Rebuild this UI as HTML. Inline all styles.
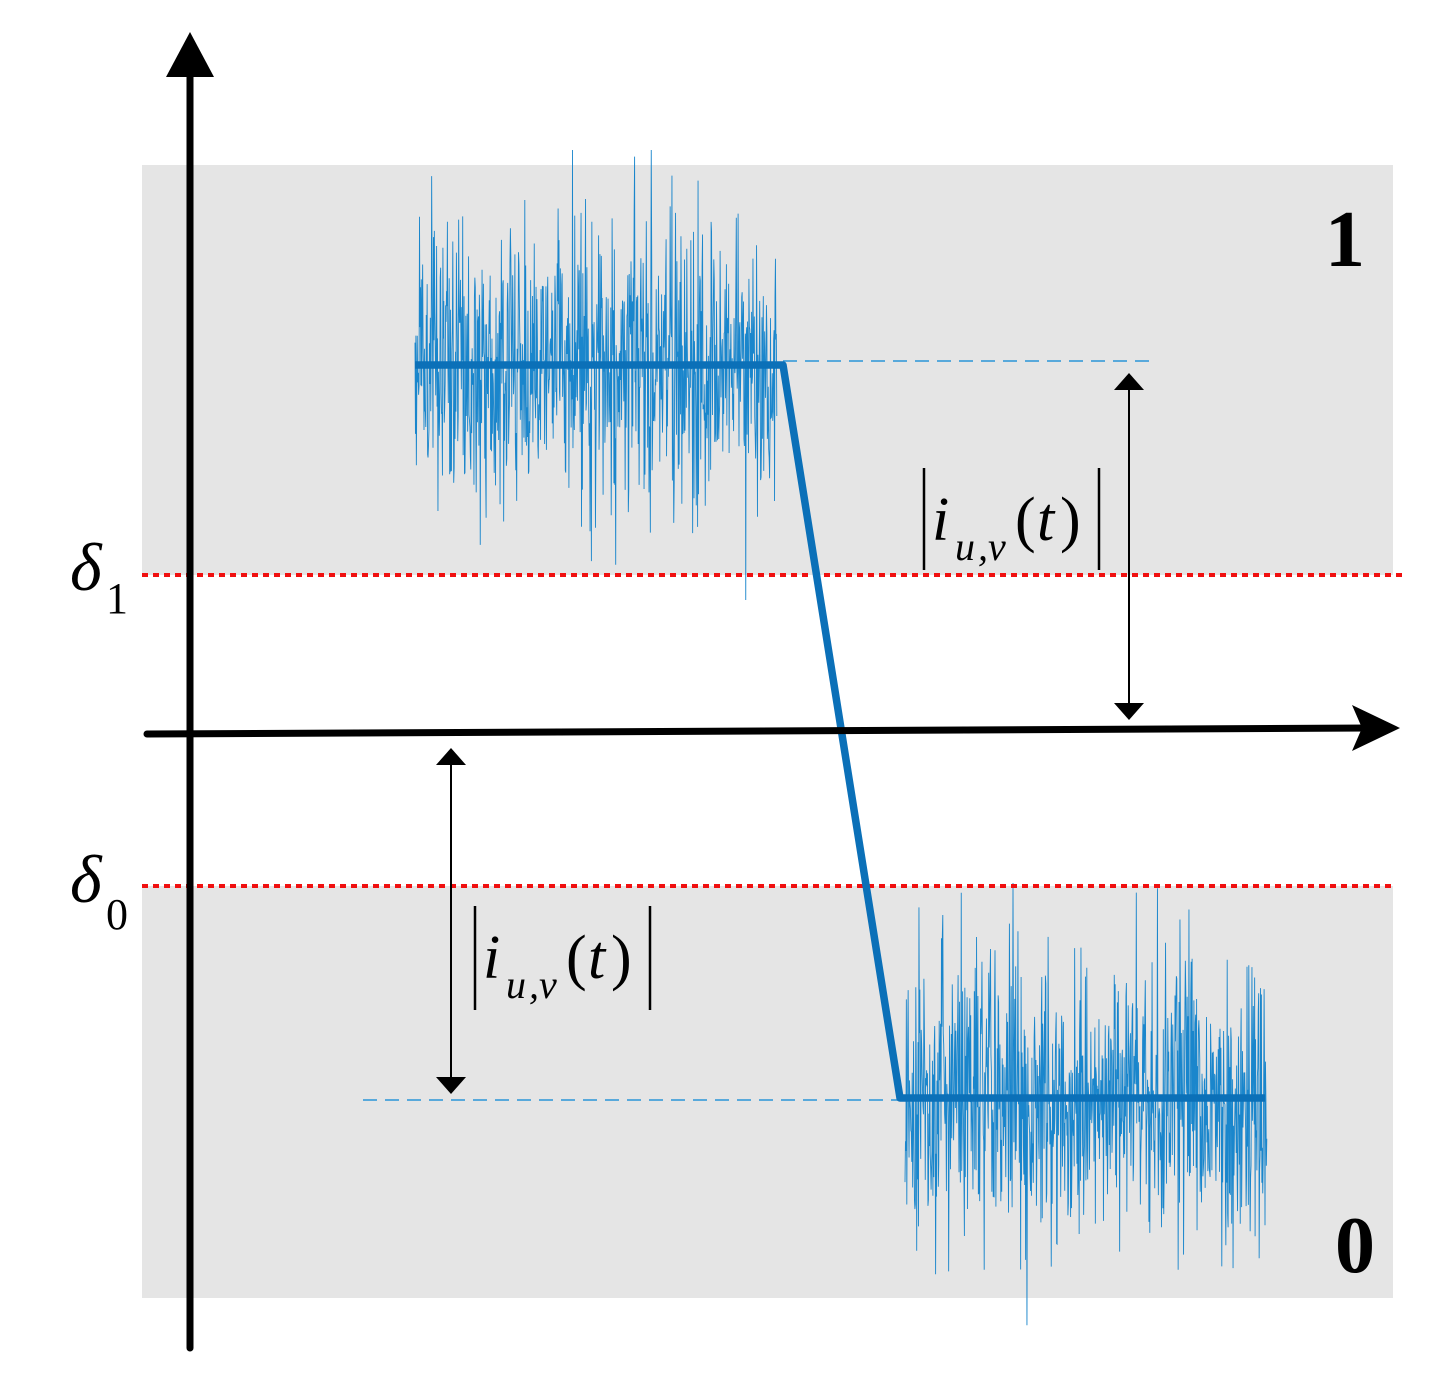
<!DOCTYPE html>
<html><head><meta charset="utf-8"><style>
html,body{margin:0;padding:0;background:#fff;}
svg{display:block;}
</style></head><body>
<svg id="s" width="1431" height="1377" viewBox="0 0 1431 1377" xmlns="http://www.w3.org/2000/svg">
<rect x="142" y="165" width="1251" height="410" fill="#e5e5e5"/>
<rect x="142" y="886" width="1251" height="412" fill="#e5e5e5"/>
<g id="noise"></g>
<line x1="142" y1="575" x2="1403" y2="575" stroke="#f01010" stroke-width="4" stroke-dasharray="6,5"/>
<line x1="142" y1="886" x2="1395" y2="886" stroke="#f01010" stroke-width="4" stroke-dasharray="6,5"/>
<line x1="783" y1="361" x2="1155" y2="361" stroke="#2a95d8" stroke-width="1.5" stroke-dasharray="14,8"/>
<line x1="363" y1="1100" x2="900" y2="1100" stroke="#2a95d8" stroke-width="1.5" stroke-dasharray="14,8"/>
<polyline points="415,365 783,365 900,1098 1265,1098" fill="none" stroke="#0b70b8" stroke-width="7.5" stroke-linejoin="round"/>
<line x1="190" y1="65" x2="190" y2="1348" stroke="#000" stroke-width="7" stroke-linecap="round"/>
<polygon points="190,32 166,77 214,77" fill="#000"/>
<line x1="147" y1="734" x2="1370" y2="728" stroke="#000" stroke-width="7" stroke-linecap="round"/>
<polygon points="1400,728 1352,705 1362,728 1352,751" fill="#000"/>
<line x1="1129" y1="385" x2="1129" y2="708" stroke="#000" stroke-width="2"/>
<polygon points="1129,373 1114,390 1144,390" fill="#000"/>
<polygon points="1129,720 1114,703 1144,703" fill="#000"/>
<line x1="451" y1="760" x2="451" y2="1082" stroke="#000" stroke-width="2"/>
<polygon points="451,748 436,765 466,765" fill="#000"/>
<polygon points="451,1094 436,1077 466,1077" fill="#000"/>
<g font-family="'Liberation Serif',serif" fill="#000">
<line x1="924" y1="468" x2="924" y2="570" stroke="#000" stroke-width="2.5"/>
<line x1="1099" y1="468" x2="1099" y2="570" stroke="#000" stroke-width="2.5"/>
<text x="932" y="540" font-size="62" font-style="italic">i</text>
<text x="955" y="560" font-size="40" font-style="italic">u</text>
<text x="978" y="560" font-size="40" font-style="italic">,v</text>
<text x="1015" y="540" font-size="62">(</text>
<text x="1037" y="540" font-size="62" font-style="italic">t</text>
<text x="1060" y="540" font-size="62">)</text>
<line x1="475" y1="906" x2="475" y2="1010" stroke="#000" stroke-width="2.5"/>
<line x1="650" y1="906" x2="650" y2="1010" stroke="#000" stroke-width="2.5"/>
<text x="483" y="978" font-size="62" font-style="italic">i</text>
<text x="506" y="998" font-size="40" font-style="italic">u</text>
<text x="529" y="998" font-size="40" font-style="italic">,v</text>
<text x="566" y="978" font-size="62">(</text>
<text x="588" y="978" font-size="62" font-style="italic">t</text>
<text x="611" y="978" font-size="62">)</text>
<text x="70" y="590" font-size="68" font-style="italic">δ</text>
<text x="106" y="613" font-size="44">1</text>
<text x="70" y="902" font-size="68" font-style="italic">δ</text>
<text x="106" y="929" font-size="44">0</text>
<text x="1325" y="266" font-size="80" font-weight="bold">1</text>
<text x="1335" y="1272" font-size="80" font-weight="bold">0</text>
</g>
</svg>
<script>
(function(){
var seed=12345;function r(){seed=(seed*1103515245+12345)%2147483648;return seed/2147483648;}
function g(){var u=r()||1e-9,v=r();return Math.sqrt(-2*Math.log(u))*Math.cos(2*Math.PI*v);}
function block(x0,x1,yc,sd){var pts=[];for(var x=x0;x<=x1;x+=0.45){var y=yc+g()*sd;if(y<yc-215)y=yc-215;if(y>yc+235)y=yc+235;pts.push(x.toFixed(2)+","+y.toFixed(1));}return pts.join(" ");}
var ns="http://www.w3.org/2000/svg",gEl=document.getElementById("noise");
[[415,777,365,72],[905,1267,1098,72]].forEach(function(b){var p=document.createElementNS(ns,"polyline");p.setAttribute("points",block(b[0],b[1],b[2],b[3]));p.setAttribute("fill","none");p.setAttribute("stroke","#1a86cc");p.setAttribute("stroke-width","0.9");gEl.appendChild(p);});
})();
</script>
</body></html>
